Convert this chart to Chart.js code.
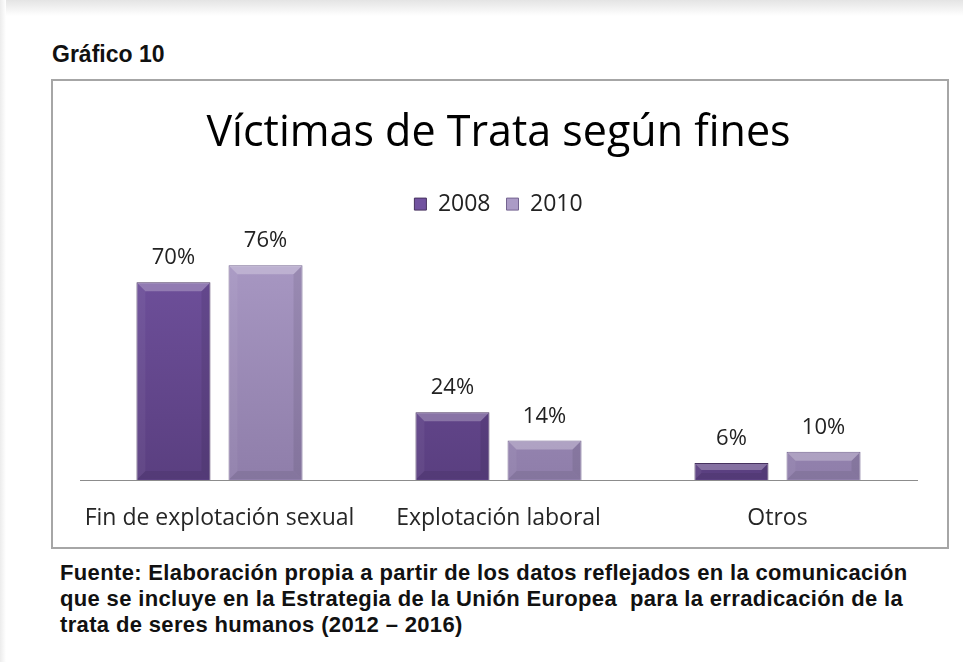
<!DOCTYPE html>
<html>
<head>
<meta charset="utf-8">
<script src="https://cdn.jsdelivr.net/npm/chart.js@4.4.1/dist/chart.umd.min.js"></script>
<style>
  html, body { margin: 0; padding: 0; background: #ffffff; width: 963px; height: 662px; overflow: hidden; }
  #topshade { position: absolute; left: 0; top: 0; width: 963px; height: 16px; background: linear-gradient(#e4e4e4, #ffffff); }
  #leftshade { position: absolute; left: 0; top: 0; width: 6px; height: 662px; background: linear-gradient(90deg, #ececec, #ffffff); }
  #heading { position: absolute; left: 52px; top: 41px; font-family: "Liberation Sans", Arial, sans-serif; font-weight: bold; font-size: 23px; line-height: 26px; color: #111; }
  #box { position: absolute; left: 51px; top: 79px; width: 894px; height: 466px; border: 2px solid #a6a6a6; background: #fff; }
  #wrap { position: absolute; left: 0; top: 0; width: 894px; height: 466px; }
  #source { position: absolute; left: 60px; top: 560px; font-family: "Liberation Sans", Arial, sans-serif; font-weight: bold; font-size: 22px; letter-spacing: 0.35px; line-height: 26px; color: #111; white-space: nowrap; }
</style>
</head>
<body>
<div id="topshade"></div>
<div id="leftshade"></div>
<div id="heading">Gráfico 10</div>
<div id="box"><div id="wrap"><canvas id="c" width="894" height="466"></canvas></div></div>
<div id="source">Fuente: Elaboración propia a partir de los datos reflejados en la comunicación<br>que se incluye en la Estrategia de la Unión Europea&nbsp; para la erradicación de la<br>trata de seres humanos (2012 – 2016)</div>
<script>
const chartTitle = "Víctimas de Trata según fines";
const categories = ["Fin de explotación sexual", "Explotación laboral", "Otros"];
const seriesNames = ["2008", "2010"];
const values2008 = [70, 24, 6];
const values2010 = [76, 14, 10];

const FONT = '"Open Sans", Lato, sans-serif';

function grad(ctx, top, bottom) {
  const chart = ctx.chart;
  const area = chart.chartArea;
  if (!area) return top;
  const g = chart.ctx.createLinearGradient(0, area.top, 0, area.bottom);
  g.addColorStop(0, top);
  g.addColorStop(1, bottom);
  return g;
}

// subtle bevel shading drawn on top of each bar element computed by Chart.js
const bevel = {
  id: 'bevel',
  afterDatasetsDraw(chart) {
    const ctx = chart.ctx;
    ctx.save();
    chart.data.datasets.forEach((ds, i) => {
      const meta = chart.getDatasetMeta(i);
      meta.data.forEach((bar) => {
        const x0 = bar.x - bar.width / 2 + 1, x1 = bar.x + bar.width / 2 - 1;
        const y0 = bar.y + 1, y1 = bar.base - 1;
        const h = y1 - y0;
        const b = Math.min(8, h / 2.5);
        ctx.fillStyle = 'rgba(255,255,255,0.26)';
        ctx.beginPath();
        ctx.moveTo(x0, y0); ctx.lineTo(x1, y0); ctx.lineTo(x1 - b, y0 + b); ctx.lineTo(x0 + b, y0 + b); ctx.closePath();
        ctx.fill();
        ctx.fillStyle = 'rgba(255,255,255,0.05)';
        ctx.beginPath();
        ctx.moveTo(x0, y0); ctx.lineTo(x0 + b, y0 + b); ctx.lineTo(x0 + b, y1 - b); ctx.lineTo(x0, y1); ctx.closePath();
        ctx.fill();
        ctx.fillStyle = 'rgba(0,0,0,0.08)';
        ctx.beginPath();
        ctx.moveTo(x1, y0); ctx.lineTo(x1 - b, y0 + b); ctx.lineTo(x1 - b, y1 - b); ctx.lineTo(x1, y1); ctx.closePath();
        ctx.fill();
        ctx.fillStyle = 'rgba(0,0,0,0.07)';
        ctx.beginPath();
        ctx.moveTo(x0, y1); ctx.lineTo(x1, y1); ctx.lineTo(x1 - b, y1 - b); ctx.lineTo(x0 + b, y1 - b); ctx.closePath();
        ctx.fill();
      });
    });
    ctx.restore();
  }
};

const valueLabels = {
  id: 'valueLabels',
  afterDatasetsDraw(chart) {
    const ctx = chart.ctx;
    ctx.save();
    ctx.font = '22px ' + FONT;
    ctx.fillStyle = '#222';
    ctx.textAlign = 'center';
    ctx.textBaseline = 'middle';
    chart.data.datasets.forEach((ds, i) => {
      const meta = chart.getDatasetMeta(i);
      meta.data.forEach((bar, j) => {
        ctx.fillText(ds.data[j] + '%', bar.x, bar.y - 24);
      });
    });
    ctx.restore();
  }
};

new Chart(document.getElementById('c'), {
  type: 'bar',
  data: {
    labels: categories,
    datasets: [
      {
        label: seriesNames[0],
        data: values2008,
        backgroundColor: (c) => grad(c, '#7253a0', '#5a3f80'),
        borderColor: '#47325f',
        borderWidth: 1,
        categoryPercentage: 0.66,
        barPercentage: 0.804
      },
      {
        label: seriesNames[1],
        data: values2010,
        backgroundColor: (c) => grad(c, '#ab9bc6', '#8f7eaa'),
        borderColor: '#746490',
        borderWidth: 1,
        categoryPercentage: 0.66,
        barPercentage: 0.804
      }
    ]
  },
  options: {
    responsive: false,
    animation: false,
    events: [],
    layout: { padding: { left: 27, right: 30, top: 0, bottom: 0 } },
    plugins: {
      title: {
        display: true,
        text: chartTitle,
        color: '#000',
        font: { family: FONT, size: 43, weight: 'normal', lineHeight: 1.2 },
        padding: { top: 27, bottom: 17 }
      },
      legend: {
        display: true,
        position: 'top',
        labels: {
          boxWidth: 12,
          boxHeight: 12,
          color: '#222',
          padding: 16,
          font: { family: FONT, size: 23 }
        }
      },
      tooltip: { enabled: false }
    },
    scales: {
      x: {
        grid: { display: false },
        border: { display: true, color: '#8c8c8c', width: 1 },
        ticks: {
          color: '#262626',
          padding: 17,
          maxRotation: 0,
          font: { family: FONT, size: 23 }
        },
        afterFit(scale) { scale.height = 67; }
      },
      y: { display: false, min: 0, max: 90 }
    }
  },
  plugins: [bevel, valueLabels]
});
</script>
</body>
</html>
